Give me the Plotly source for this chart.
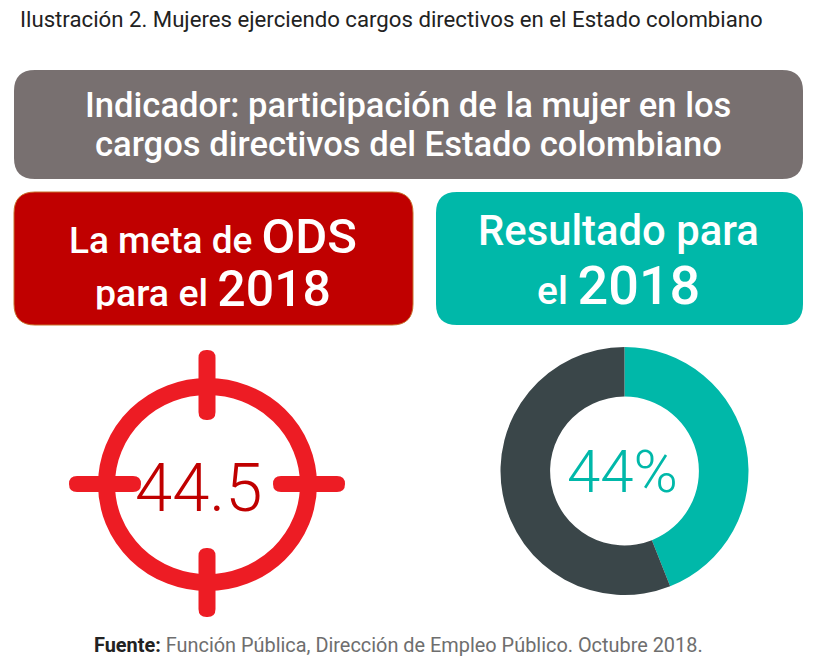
import plotly.graph_objects as go

W, H = 815, 665
RESULT_LABELS = ["Mujeres", "Resto"]
RESULT_VALUES = [44, 56]
RESULT_COLORS = ["#00B8A9", "#3A4649"]
TARGET_TEXT = "44.5"
RESULT_TEXT = "44%"
TITLE = "Ilustración 2. Mujeres ejerciendo cargos directivos en el Estado colombiano"
HEADER_1 = "Indicador: participación de la mujer en los"
HEADER_2 = "cargos directivos del Estado colombiano"
FONT = "Roboto"


def rrect(x0, y0, x1, y1, r, fill, line=None, layer="below"):
    p = (f"M{x0+r},{y0} L{x1-r},{y0} Q{x1},{y0} {x1},{y0+r} L{x1},{y1-r} Q{x1},{y1} {x1-r},{y1} "
         f"L{x0+r},{y1} Q{x0},{y1} {x0},{y1-r} L{x0},{y0+r} Q{x0},{y0} {x0+r},{y0} Z")
    return dict(type="path", path=p, fillcolor=fill, xref="x", yref="y", layer=layer,
                line=dict(color=line or fill, width=1 if line else 0))


shapes = [
    rrect(14, 70, 803, 179, 21, "#787070"),
    rrect(14, 192, 413, 325, 21, "#C00000", line="#C8702A"),
    rrect(436, 192, 803, 325, 21, "#00B8A9"),
    dict(type="circle", xref="x", yref="y", x0=106.5, x1=308.5, y0=386.5, y1=582.5,
         line=dict(color="#ED1C24", width=17), fillcolor="rgba(0,0,0,0)", layer="below"),
    rrect(198.5, 350, 215.5, 420, 8, "#ED1C24"),
    rrect(198.5, 548, 215.5, 617, 8, "#ED1C24"),
    rrect(69, 476, 141, 492, 8, "#ED1C24"),
    rrect(273, 476, 345, 492, 8, "#ED1C24"),
    # flat cut of the text at the bottom of "para el 2018", as in the source image
    dict(type="rect", xref="x", yref="y", x0=90, x1=340, y0=309.5, y1=320, layer="above",
         fillcolor="#C00000", line=dict(width=0)),
]


def note(x, y, text, size, color, anchor="center", weight=None):
    f = dict(family=FONT, size=size, color=color)
    if weight:
        f["weight"] = weight
    return dict(x=x, y=y, xref="x", yref="y", text=text, showarrow=False, xanchor=anchor,
                yanchor="middle", font=f, align="center")


S = lambda t, s: f'<span style="font-size:{s}px">{t}</span>'
annotations = [
    note(18, 19, TITLE, 22.2, "#222222", "left"),
    note(408, 105, HEADER_1, 34.6, "#FFFFFF", weight=500),
    note(408, 144, HEADER_2, 34.6, "#FFFFFF", weight=500),
    note(213, 236, "La meta de " + S("ODS", 49), 37, "#FFFFFF", weight=500),
    note(618.5, 230, "Resultado para", 41.8, "#FFFFFF", weight=500),
    note(618, 285, "el " + S("2018", 54), 39, "#FFFFFF", weight=500),
    note(199, 488, TARGET_TEXT, 67, "#C00000", weight=300),
    note(622, 471, RESULT_TEXT, 60, "#00B8A9", weight=300),
    note(398, 645, "<b>Fuente:</b> <span style='color:#6E6E6E'>Función Pública, Dirección de Empleo Público. Octubre 2018.</span>",
         19.9, "#222222"),
]

fig = go.Figure()
fig.add_trace(go.Scatter(
    x=[213], y=[297], mode="text", text=["para el " + S("2018", 50)], textposition="middle center",
    textfont=dict(family=FONT, size=37.5, color="#FFFFFF", weight=500), showlegend=False, hoverinfo="skip",
))
fig.add_trace(go.Pie(
    labels=RESULT_LABELS, values=RESULT_VALUES, hole=0.6, sort=False, direction="clockwise",
    rotation=0, textinfo="none", showlegend=False,
    marker=dict(colors=RESULT_COLORS, line=dict(width=0)),
    domain=dict(x=[499.5 / W, 749.5 / W], y=[1 - 595 / H, 1 - 347 / H]),
))
fig.update_layout(
    width=W, height=H, autosize=False, margin=dict(l=0, r=0, t=0, b=0),
    paper_bgcolor="white", plot_bgcolor="white",
    xaxis=dict(range=[0, W], visible=False, fixedrange=True),
    yaxis=dict(range=[H, 0], visible=False, fixedrange=True),
    shapes=shapes, annotations=annotations,
)
fig.write_html("out.html", config={"displayModeBar": False},
               post_script="document.body.style.margin='0';document.documentElement.style.overflow='hidden';")
